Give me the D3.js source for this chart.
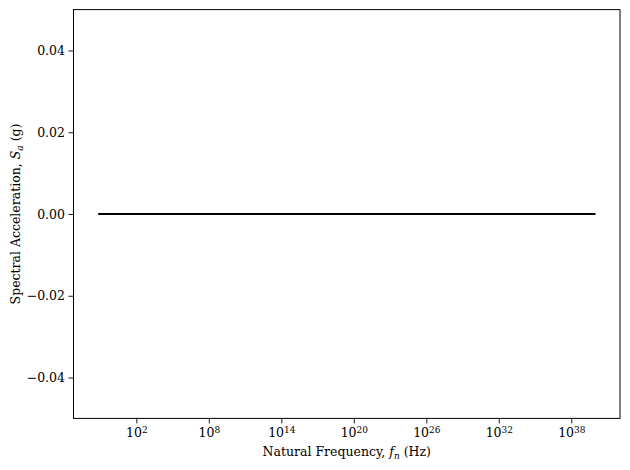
<!DOCTYPE html>
<html>
<head>
<meta charset="utf-8">
<script src="https://d3js.org/d3.v7.min.js"></script>
<style>
  body { margin: 0; background: #fff; }
  text { font-family: "DejaVu Serif", "Liberation Serif", serif; fill: #000; }
</style>
</head>
<body>
<svg id="chart" width="630" height="470"></svg>
<script>
// response spectrum (flat, all zero)
var freqs = [0.07, 1, 100, 1e6, 1e12, 1e20, 1e28, 1e34, 1e40];
var accel = [0, 0, 0, 0, 0, 0, 0, 0, 0];
var xTickExp = [2, 8, 14, 20, 26, 32, 38];
var yTicks = [-0.04, -0.02, 0, 0.02, 0.04];

var svg = d3.select("#chart"),
    margin = {top: 9.6, right: 10, bottom: 51.6, left: 73.5},
    width = +svg.attr("width"),
    height = +svg.attr("height");

var x = d3.scaleLog()
    .domain([Math.pow(10, -3.2), Math.pow(10, 42.03)])
    .range([margin.left, width - margin.right]);

var y = d3.scaleLinear()
    .domain([-0.05, 0.05])
    .range([height - margin.bottom, margin.top]);

var fmtY = d3.format(".2f");

// x axis
var xAxis = svg.append("g")
    .attr("transform", `translate(0,${height - margin.bottom})`)
    .call(d3.axisBottom(x)
        .tickValues(xTickExp.map(e => Math.pow(10, e)))
        .tickSize(5)
        .tickSizeOuter(0)
        .tickFormat(""));
xAxis.select(".domain").remove();
xAxis.selectAll(".tick line").attr("stroke", "#000").attr("stroke-width", 0.9);

var xl = xAxis.selectAll(".tick").data(xTickExp)
    .append("text")
    .attr("y", 19)
    .attr("text-anchor", "middle")
    .style("font-size", "12.5px");
xl.append("tspan").text("10");
xl.append("tspan").attr("dy", "-0.45em").style("font-size", "9px").text(d => d);

// y axis
var yAxis = svg.append("g")
    .attr("transform", `translate(${margin.left},0)`)
    .call(d3.axisLeft(y)
        .tickValues(yTicks)
        .tickSize(5)
        .tickPadding(3.5)
        .tickFormat(d => fmtY(d).replace("-", "\u2212")));
yAxis.select(".domain").remove();
yAxis.selectAll(".tick line").attr("stroke", "#000").attr("stroke-width", 0.9);
yAxis.selectAll(".tick text")
    .style("font-size", "12.5px")
    .style("font-family", "\"DejaVu Serif\", serif");

// line
var line = d3.line()
    .x((d, i) => x(freqs[i]))
    .y(d => y(d));

svg.append("path")
    .datum(accel)
    .attr("fill", "none")
    .attr("stroke", "#000")
    .attr("stroke-width", 2)
    .attr("d", line);

// frame
svg.append("rect")
    .attr("x", margin.left)
    .attr("y", margin.top)
    .attr("width", width - margin.right - margin.left)
    .attr("height", height - margin.bottom - margin.top)
    .attr("fill", "none")
    .attr("stroke", "#000")
    .attr("stroke-width", 1);

// axis labels
var xlab = svg.append("text")
    .attr("x", (margin.left + width - margin.right) / 2)
    .attr("y", 456)
    .attr("text-anchor", "middle")
    .style("font-size", "12.5px");
xlab.append("tspan").text("Natural Frequency, ");
xlab.append("tspan").style("font-style", "italic").text("f");
xlab.append("tspan").attr("dy", 3).style("font-size", "9px").style("font-style", "italic").text("n");
xlab.append("tspan").attr("dy", -3).text(" (Hz)");

var ylab = svg.append("text")
    .attr("transform", `translate(20,${y(0)}) rotate(-90)`)
    .attr("text-anchor", "middle")
    .style("font-size", "12.5px");
ylab.append("tspan").text("Spectral Acceleration, ");
ylab.append("tspan").style("font-style", "italic").text("S");
ylab.append("tspan").attr("dy", 3).style("font-size", "9px").style("font-style", "italic").text("a");
ylab.append("tspan").attr("dy", -3).text(" (g)");
</script>
</body>
</html>
